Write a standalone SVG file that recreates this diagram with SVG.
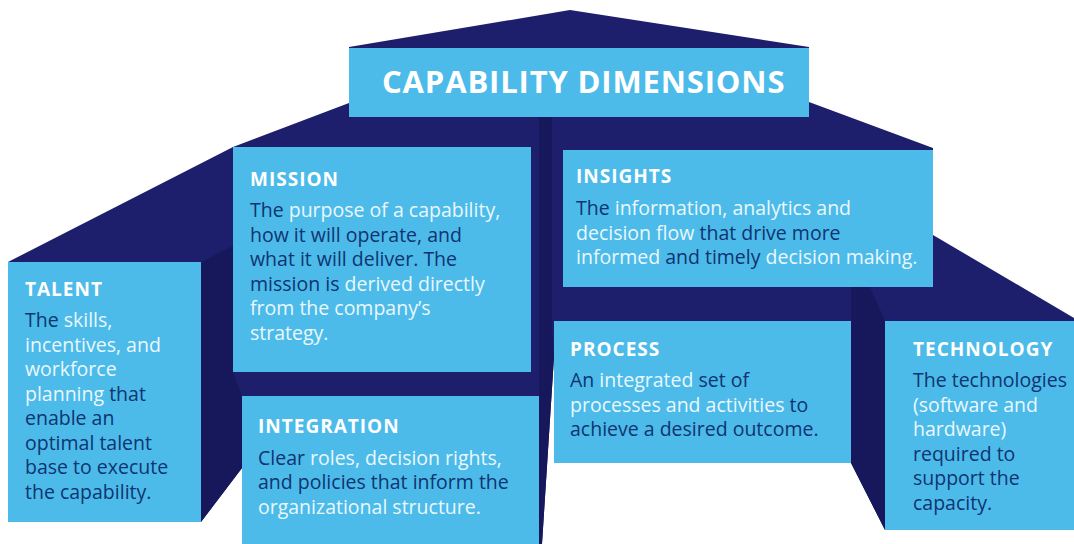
<svg xmlns="http://www.w3.org/2000/svg" width="1074" height="544" viewBox="0 0 1074 544">
  <style>
    .navy { fill: #1d1f6c; }
    .shade { fill: #16185b; }
    .face { fill: #4cbbe9; }
    .title { font-family: "Open Sans", "Liberation Sans", sans-serif; font-weight: 700; font-size: 31px; letter-spacing: 0.85px; fill: #ffffff; }
    .h { font-family: "Open Sans", "Liberation Sans", sans-serif; font-weight: 700; font-size: 19px; letter-spacing: 1px; fill: #ffffff; }
    .b { font-family: "Open Sans", "Liberation Sans", sans-serif; font-size: 19.5px; fill: #0f3471; }
    .l { fill: #eaf7fd; }
  </style>
  <rect width="1074" height="544" fill="#ffffff"/>
  <g id="structure">
    <polygon class="navy" points="570,10 809,47 809,102 933,148 933,235 1074,318 1074,321 885,321 885,530 851,463 554,463 554,357 542,544 242,544 242,468 201,522 8,522 8,262 233,147 349,103 349,47"/>
    <polygon class="shade" points="201,262 233,246 233,372 242,396 242,468 201,522"/>
    <polygon class="shade" points="539,117 552,117 552,330 554,357 542,544 539,544"/>
    <polygon class="shade" points="851,287 870,287 885,321 885,530 851,463"/>
  </g>
  <g id="title">
    <rect class="face" x="349" y="48" width="460" height="69"/>
    <text class="title" x="382" y="93">CAPABILITY DIMENSIONS</text>
  </g>
  <g id="talent">
    <rect class="face" x="8" y="262" width="193" height="260"/>
    <text class="h" x="25" y="296">TALENT</text>
    <text class="b" x="25" y="327">The <tspan class="l">skills,</tspan></text>
    <text class="b l" x="25" y="351.5">incentives, and</text>
    <text class="b l" x="25" y="376">workforce</text>
    <text class="b" x="25" y="400.5"><tspan class="l">planning</tspan> that</text>
    <text class="b" x="25" y="425">enable an</text>
    <text class="b" x="25" y="449.5">optimal talent</text>
    <text class="b" x="25" y="474">base to execute</text>
    <text class="b" x="25" y="498.5">the capability.</text>
  </g>
  <g id="mission">
    <rect class="face" x="233" y="147" width="298" height="225"/>
    <text class="h" x="250" y="186">MISSION</text>
    <text class="b" x="250" y="217">The <tspan class="l">purpose of a capability,</tspan></text>
    <text class="b" x="250" y="241.5">how it will operate, and</text>
    <text class="b" x="250" y="266">what it will deliver. The</text>
    <text class="b" x="250" y="290.5">mission is <tspan class="l">derived directly</tspan></text>
    <text class="b l" x="250" y="315">from the company’s</text>
    <text class="b l" x="250" y="339.5">strategy.</text>
  </g>
  <g id="integration">
    <rect class="face" x="242" y="396" width="297" height="148"/>
    <text class="h" x="258" y="433">INTEGRATION</text>
    <text class="b" x="258" y="464.5">Clear <tspan class="l">roles, decision rights,</tspan></text>
    <text class="b" x="258" y="489">and policies that inform the</text>
    <text class="b l" x="258" y="513.5">organizational structure.</text>
  </g>
  <g id="insights">
    <rect class="face" x="563" y="150" width="370" height="137"/>
    <text class="h" x="576" y="183">INSIGHTS</text>
    <text class="b" x="576" y="215">The <tspan class="l">information, analytics and</tspan></text>
    <text class="b" x="576" y="239.5"><tspan class="l">decision flow</tspan> that drive more</text>
    <text class="b" x="576" y="264"><tspan class="l">informed</tspan> and timely <tspan class="l">decision making.</tspan></text>
  </g>
  <g id="process">
    <rect class="face" x="554" y="321" width="297" height="142"/>
    <text class="h" x="570" y="356">PROCESS</text>
    <text class="b" x="570" y="387">An <tspan class="l">integrated</tspan> set of</text>
    <text class="b" x="570" y="411.5"><tspan class="l">processes and activities</tspan> to</text>
    <text class="b" x="570" y="436">achieve a desired outcome.</text>
  </g>
  <g id="technology">
    <rect class="face" x="885" y="321" width="189" height="209"/>
    <text class="h" x="913" y="356">TECHNOLOGY</text>
    <text class="b" x="913" y="387">The technologies</text>
    <text class="b l" x="913" y="411.5">(software and</text>
    <text class="b l" x="913" y="436">hardware)</text>
    <text class="b" x="913" y="460.5">required to</text>
    <text class="b" x="913" y="485">support the</text>
    <text class="b" x="913" y="509.5">capacity.</text>
  </g>
</svg>
